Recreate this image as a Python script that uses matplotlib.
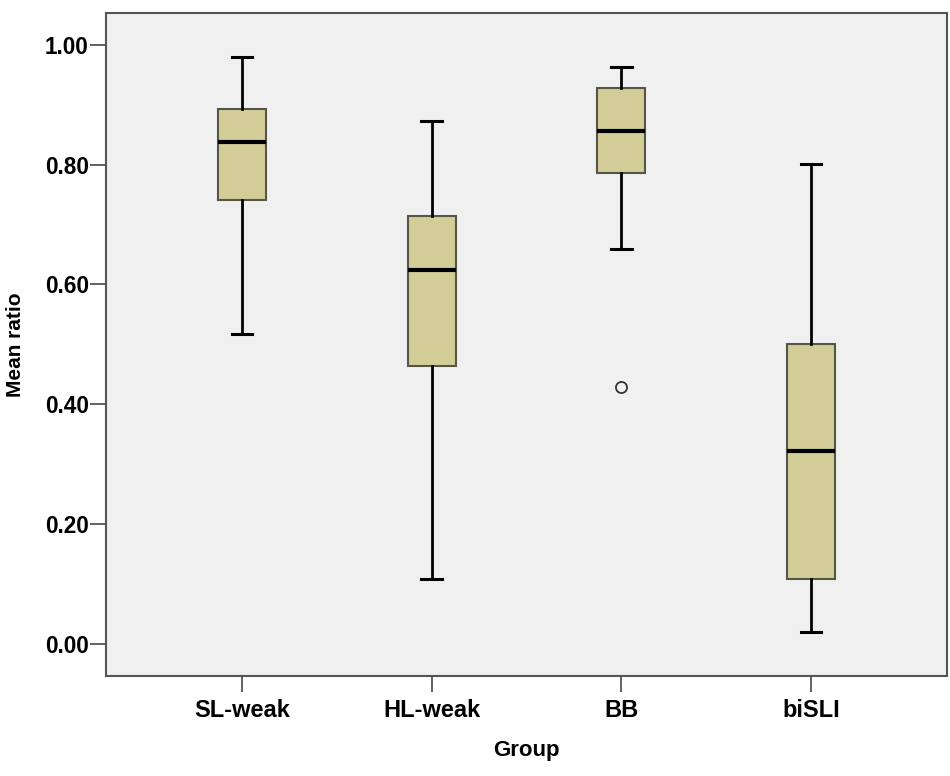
import matplotlib
matplotlib.use("Agg")
import matplotlib.pyplot as plt

groups = ["SL-weak", "HL-weak", "BB", "biSLI"]
whisker_low = [0.518, 0.108, 0.660, 0.019]
q1 = [0.741, 0.464, 0.786, 0.108]
medians = [0.838, 0.624, 0.857, 0.322]
q3 = [0.893, 0.714, 0.928, 0.500]
whisker_high = [0.980, 0.873, 0.963, 0.802]
outliers = [[], [], [0.429], []]
yticks = [0.0, 0.2, 0.4, 0.6, 0.8, 1.0]

plt.rcParams['font.family'] = ['Liberation Sans', 'DejaVu Sans']
plt.rcParams['font.weight'] = 'bold'

fig = plt.figure(figsize=(9.5, 7.76), dpi=100)
ax = fig.add_axes([0.1116, 0.1289, 0.8852, 0.854])
ax.set_facecolor('#F0F0F0')

stats = []
for i, g in enumerate(groups):
    stats.append(dict(label=g, whislo=whisker_low[i], q1=q1[i], med=medians[i],
                      q3=q3[i], whishi=whisker_high[i], fliers=outliers[i]))

positions = list(range(1, len(groups) + 1))
ax.bxp(stats, positions=positions, widths=0.253, capwidths=0.11, patch_artist=True,
       boxprops=dict(facecolor='#D3CE97', edgecolor='#55554a', linewidth=1.5),
       medianprops=dict(color='black', linewidth=3),
       whiskerprops=dict(color='black', linewidth=2),
       capprops=dict(color='black', linewidth=2.2),
       flierprops=dict(marker='o', markersize=8, markerfacecolor='#F0F0F0',
                       markeredgecolor='#333333', markeredgewidth=1.3))

ax.set_xlim(0.283, 4.717)
ax.set_ylim(-0.054, 1.053)
ax.set_yticks(yticks)
ax.set_yticklabels([f"{v:.2f}" for v in yticks])
ax.set_xticks(positions)
ax.set_xticklabels(groups)

for s in ax.spines.values():
    s.set_color('#555555')
    s.set_linewidth(1.5)

ax.tick_params(axis='y', length=11.5, width=1.3, color='#555555', pad=1, labelsize=16.3)
ax.tick_params(axis='x', length=11.5, width=1.3, color='#555555', pad=5, labelsize=17)
for lab in ax.get_xticklabels() + ax.get_yticklabels():
    lab.set_fontweight('bold')

ax.set_ylabel("Mean ratio", fontsize=15, fontweight='bold', labelpad=14)
ax.set_xlabel("Group", fontsize=16, fontweight='bold', labelpad=13)

fig.savefig("out.png", dpi=100)
